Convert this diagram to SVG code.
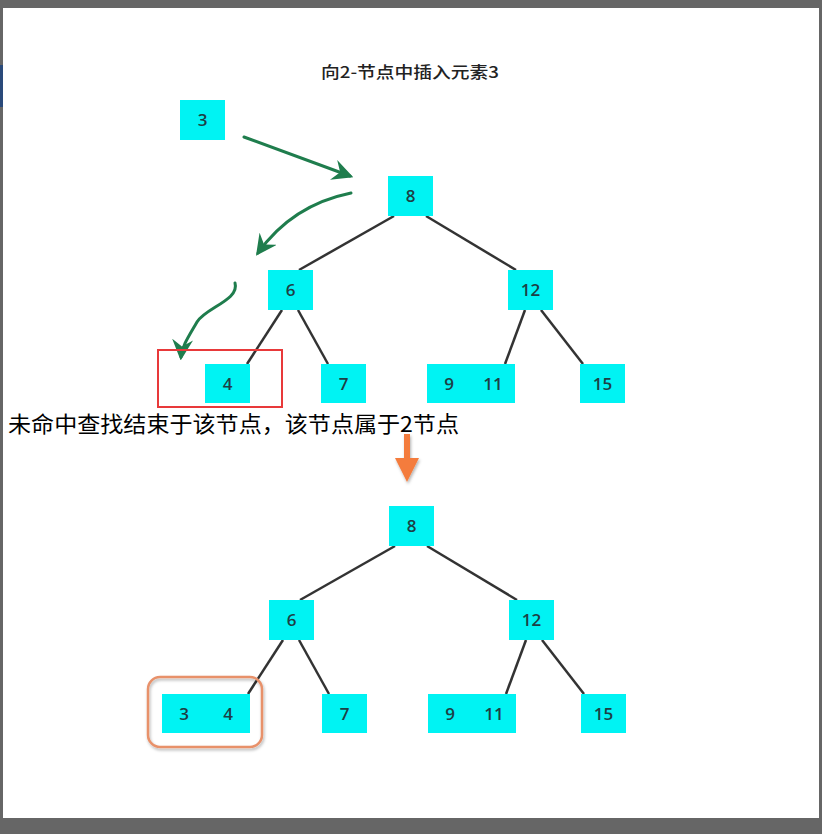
<svg xmlns="http://www.w3.org/2000/svg" width="822" height="834" viewBox="0 0 822 834">
<style>
.frame{fill:#666}
.nd rect{fill:#00f3f3}
.nd text{font-family:"Open Sans","Noto Sans",sans-serif;font-size:17px;font-weight:600;fill:#1d3f45;text-anchor:middle}
.edge{stroke:#333;stroke-width:2.5;fill:none}
.garrow{stroke:#1f7d4d;stroke-width:3;fill:none;stroke-linecap:round}
.title{font-family:"Noto Sans CJK SC",sans-serif;font-size:16px;font-weight:500;fill:#222;text-anchor:middle}
.note{font-family:"Noto Sans CJK SC",sans-serif;font-size:22px;fill:#000}
</style>
<defs>
<marker id="gh" viewBox="0 0 12 12" refX="10" refY="6" markerWidth="7" markerHeight="7" orient="auto" markerUnits="strokeWidth">
<path d="M0,0 L12,6 L0,12 L4,6 Z" fill="#1f7d4d"/>
</marker>
<filter id="sh" x="-20%" y="-20%" width="140%" height="140%">
<feDropShadow dx="1" dy="2" stdDeviation="1.5" flood-color="#000" flood-opacity="0.3"/>
</filter>
</defs>
<rect x="0" y="0" width="822" height="834" class="frame"/>
<rect x="3" y="8" width="816" height="810" fill="#fff"/>
<rect x="0" y="65" width="3" height="42" fill="#2a4a7a"/>

<text class="title" x="410" y="78" textLength="178" lengthAdjust="spacingAndGlyphs">向2-节点中插入元素3</text>

<g id="connectors">
<line class="edge" x1="394" y1="216" x2="299" y2="270"/>
<line class="edge" x1="426" y1="216" x2="516" y2="270"/>
<line class="edge" x1="282" y1="310" x2="247" y2="364"/>
<line class="edge" x1="298" y1="310" x2="328" y2="364"/>
<line class="edge" x1="525" y1="310" x2="505" y2="364"/>
<line class="edge" x1="541" y1="310" x2="583" y2="364"/>

<line class="edge" x1="395" y1="546" x2="300" y2="600"/>
<line class="edge" x1="427" y1="546" x2="517" y2="600"/>
<line class="edge" x1="283" y1="640" x2="248" y2="694"/>
<line class="edge" x1="299" y1="640" x2="329" y2="694"/>
<line class="edge" x1="526" y1="640" x2="506" y2="694"/>
<line class="edge" x1="542" y1="640" x2="584" y2="694"/>

<path class="garrow" d="M244,137 L350,176" marker-end="url(#gh)"/>
<path class="garrow" d="M351,193 Q292,205 258,253" marker-end="url(#gh)"/>
<path class="garrow" d="M235,283 C240,300 205,308 197,322 C189,336 182,346 181,357" marker-end="url(#gh)"/>

<g filter="url(#sh)">
<path d="M404,434 L410,434 L410,458 L419,458 L407,482 L395,458 L404,458 Z" fill="#f47c3c"/>
</g>
</g>

<g id="n3top" class="nd"><rect x="180" y="100" width="45" height="40"/><text x="202.5" y="126">3</text></g>
<g id="n8" class="nd"><rect x="388" y="176" width="45" height="40"/><text x="410.5" y="202">8</text></g>
<g id="n6" class="nd"><rect x="268" y="270" width="45" height="40"/><text x="290.5" y="296">6</text></g>
<g id="n12" class="nd"><rect x="508" y="270" width="45" height="40"/><text x="530.5" y="296">12</text></g>
<g id="n4" class="nd"><rect x="205" y="364" width="45" height="39"/><text x="227.5" y="390">4</text></g>
<g id="n7" class="nd"><rect x="321" y="364" width="45" height="39"/><text x="343.5" y="390">7</text></g>
<g id="n9_11" class="nd"><rect x="427" y="364" width="88" height="39"/><text x="449" y="390">9</text><text x="493" y="390">11</text></g>
<g id="n15" class="nd"><rect x="580" y="364" width="45" height="39"/><text x="602.5" y="390">15</text></g>

<rect id="hl-red" x="158" y="350" width="124" height="57" fill="none" stroke="#e8393a" stroke-width="2"/>

<text class="note" x="8" y="432" textLength="451" lengthAdjust="spacingAndGlyphs">未命中查找结束于该节点，该节点属于2节点</text>

<g id="b8" class="nd"><rect x="389" y="506" width="45" height="40"/><text x="411.5" y="532">8</text></g>
<g id="b6" class="nd"><rect x="269" y="600" width="45" height="40"/><text x="291.5" y="626">6</text></g>
<g id="b12" class="nd"><rect x="509" y="600" width="45" height="40"/><text x="531.5" y="626">12</text></g>
<g id="b3_4" class="nd"><rect x="162" y="694" width="88" height="39"/><text x="184" y="720">3</text><text x="228" y="720">4</text></g>
<g id="b7" class="nd"><rect x="322" y="694" width="45" height="39"/><text x="344.5" y="720">7</text></g>
<g id="b9_11" class="nd"><rect x="428" y="694" width="88" height="39"/><text x="450" y="720">9</text><text x="494" y="720">11</text></g>
<g id="b15" class="nd"><rect x="581" y="694" width="45" height="39"/><text x="603.5" y="720">15</text></g>

<rect id="hl-orange" x="148" y="677" width="114" height="70" rx="12" fill="none" stroke="#e8916a" stroke-width="2.5" filter="url(#sh)"/>
</svg>
